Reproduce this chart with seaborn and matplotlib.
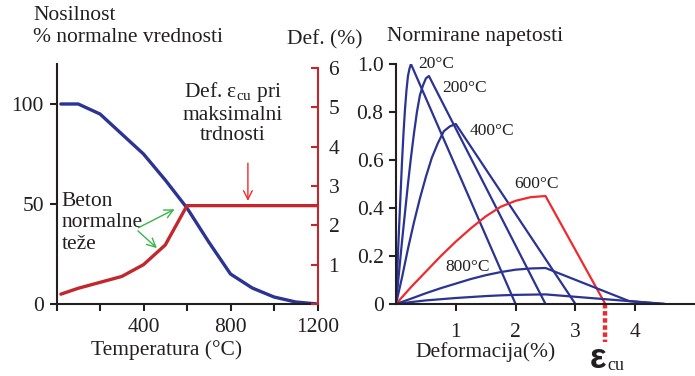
import pandas as pd
import seaborn as sns
import matplotlib.pyplot as plt

# Levi graf: nosilnost (% normalne vrednosti) in deformacija pri temperaturi
temp_nos = [20, 100, 200, 300, 400, 500, 600, 700, 800, 900, 1000, 1100, 1200]
nosilnost = [100, 100, 95, 85, 75, 62, 48, 31, 15, 8, 3.5, 1, 0]
temp_def = [20, 100, 200, 300, 400, 500, 600, 1200]
deformacija = [0.25, 0.4, 0.55, 0.7, 1.0, 1.5, 2.5, 2.5]

# Desni graf: normirane napetosti - deformacija (odčitano s slike)
eps_20 = [0, 0.025, 0.05, 0.075, 0.1, 0.125, 0.15, 0.175, 0.2, 0.225, 0.25, 2.0]
sig_20 = [0, 0.16, 0.31, 0.45, 0.59, 0.71, 0.81, 0.89, 0.95, 0.98, 1.0, 0]
eps_200 = [0, 0.05, 0.1, 0.15, 0.2, 0.25, 0.3, 0.35, 0.4, 0.45, 0.5, 0.55, 2.5]
sig_200 = [0, 0.13, 0.26, 0.38, 0.5, 0.61, 0.71, 0.8, 0.87, 0.91, 0.94, 0.95, 0]
eps_400 = [0, 0.1, 0.2, 0.3, 0.4, 0.5, 0.6, 0.7, 0.8, 0.9, 1.0, 3.0]
sig_400 = [0, 0.11, 0.23, 0.34, 0.44, 0.53, 0.61, 0.67, 0.72, 0.74, 0.75, 0]
eps_600 = [0, 0.25, 0.5, 0.75, 1.0, 1.25, 1.5, 1.75, 2.0, 2.25, 2.5, 3.5]
sig_600 = [0, 0.07, 0.135, 0.2, 0.26, 0.315, 0.365, 0.405, 0.43, 0.445, 0.45, 0]
eps_800 = [0, 0.25, 0.5, 0.75, 1.0, 1.25, 1.5, 1.75, 2.0, 2.25, 2.5, 3.9, 4.5]
sig_800 = [0, 0.022, 0.045, 0.066, 0.085, 0.104, 0.12, 0.133, 0.143, 0.148, 0.15, 0.012, 0]
eps_1000 = [0, 0.25, 0.5, 0.75, 1.0, 1.25, 1.5, 1.75, 2.0, 2.25, 2.5, 4.5]
sig_1000 = [0, 0.008, 0.015, 0.02, 0.025, 0.029, 0.033, 0.036, 0.038, 0.039, 0.04, 0]

modra = '#2b3393'
rdeca = '#c1272d'
svetlo_rdeca = '#ee2a2e'
zelena = '#39b54a'

sns.set_style('ticks')
plt.rcParams['font.family'] = ['Liberation Serif', 'DejaVu Serif']
plt.rcParams['font.size'] = 15.5
plt.rcParams['axes.linewidth'] = 1.5
plt.rcParams['axes.edgecolor'] = '#231f20'
plt.rcParams['text.color'] = '#231f20'

W, H = 695, 376
fig = plt.figure(figsize=(W / 100, H / 100), dpi=100)

def px(x0, y0, x1, y1):
    return [x0 / W, 1 - y1 / H, (x1 - x0) / W, (y1 - y0) / H]

# ---- levi graf ----
ax = fig.add_axes(px(56.5, 64, 317.5, 304))
sns.lineplot(x=temp_nos, y=nosilnost, ax=ax, color=modra, lw=2.4)
ax.set_xlim(0, 1200)
ax.set_ylim(0, 120)
ax.set_xticks(range(0, 1201, 200))
ax.set_xticklabels(['', '', '400', '', '800', '', '1200'])
ax.set_yticks([0, 50, 100])
ax.tick_params(axis='both', length=5, width=1.5, colors='#231f20', labelsize=15.5)
ax.tick_params(axis='x', pad=5)
ax.tick_params(axis='y', pad=4)
ax.spines['top'].set_visible(False)
ax.spines['right'].set_visible(False)

ax2 = ax.twinx()
sns.lineplot(x=temp_def, y=deformacija, ax=ax2, color=rdeca, lw=2.4)
ax2.set_ylim(0, 6.1)
ax2.set_yticks(range(0, 7))
ax2.set_yticklabels(['', '1', '2', '3', '4', '5', '6'])
ax2.spines['right'].set_bounds(0, 6)
ax2.spines['right'].set_color(rdeca)
ax2.spines['top'].set_visible(False)
ax2.spines['left'].set_visible(False)
ax2.spines['bottom'].set_visible(False)
ax2.tick_params(axis='y', direction='in', length=5, width=1.5, color=rdeca,
                labelcolor='#231f20', labelsize=15.5, pad=8)
ax2.set_xlim(0, 1200)

ax2.text(811, 4.86, 'Def. ε$_{\\mathregular{cu}}$ pri\nmaksimalni\ntrdnosti',
         ha='center', va='center', linespacing=1.12, fontsize=15.5)
ax2.annotate('', xy=(880, 2.55), xytext=(880, 3.65),
             arrowprops=dict(arrowstyle='->', color=svetlo_rdeca, lw=1.0))
ax.text(25, 40.5, 'Beton\nnormalne\nteže', ha='left', va='center',
        linespacing=1.15, fontsize=15.5)
for tx, ty in [(554, 48), (471, 27)]:
    ax.annotate('', xy=(tx, ty), xytext=(365, 37.5),
                arrowprops=dict(arrowstyle='->', color=zelena, lw=1.0))

fig.text(33 / W, 1 - 15 / H, 'Nosilnost', va='center', ha='left')
fig.text(33 / W, 1 - 38 / H, '% normalne vrednosti', va='center', ha='left')
fig.text(287 / W, 1 - 40 / H, 'Def. (%)', va='center', ha='left')
fig.text(167 / W, 1 - 350 / H, 'Temperatura (°C)', va='center', ha='center')

# ---- desni graf ----
bx = fig.add_axes(px(396, 64, 695, 304))
krivulje = [
    (eps_20, sig_20, modra), (eps_200, sig_200, modra), (eps_400, sig_400, modra),
    (eps_600, sig_600, svetlo_rdeca), (eps_800, sig_800, modra), (eps_1000, sig_1000, modra),
]
for ex, sy, c in krivulje:
    sns.lineplot(x=ex, y=sy, ax=bx, color=c, lw=1.6)
bx.set_xlim(0, 5)
bx.set_ylim(0, 1.0)
bx.set_xticks([1, 2, 3, 4])
bx.set_yticks([0, 0.2, 0.4, 0.6, 0.8, 1.0])
bx.set_yticklabels(['0', '0.2', '0.4', '0.6', '0.8', '1.0'])
bx.tick_params(axis='both', length=5, width=1.5, colors='#231f20', labelsize=15.5)
bx.tick_params(axis='x', pad=9)
bx.tick_params(axis='y', pad=4)
bx.spines['top'].set_visible(False)
bx.spines['right'].set_visible(False)

for lab, lx, ly in [('20°C', 0.38, 1.0), ('200°C', 0.78, 0.9), ('400°C', 1.23, 0.72),
                    ('600°C', 1.98, 0.5), ('800°C', 0.82, 0.154)]:
    bx.text(lx, ly, lab, ha='left', va='center', fontsize=12.5, clip_on=False)

bx.plot([3.5, 3.5], [0, -0.16], color=svetlo_rdeca, lw=3.2, ls=(0, (1, 0.6)), clip_on=False)

fig.text(387 / W, 1 - 37 / H, 'Normirane napetosti', va='center', ha='left')
fig.text(486 / W, 1 - 352 / H, 'Deformacija(%)', va='center', ha='center')
fig.text(598 / W, 1 - 358 / H, 'ε', va='center', ha='center', fontsize=25,
         fontweight='bold', family=['Liberation Sans', 'DejaVu Sans'])
fig.text(607 / W, 1 - 366 / H, 'cu', va='center', ha='left', fontsize=13)

fig.savefig('out.png', dpi=100)
